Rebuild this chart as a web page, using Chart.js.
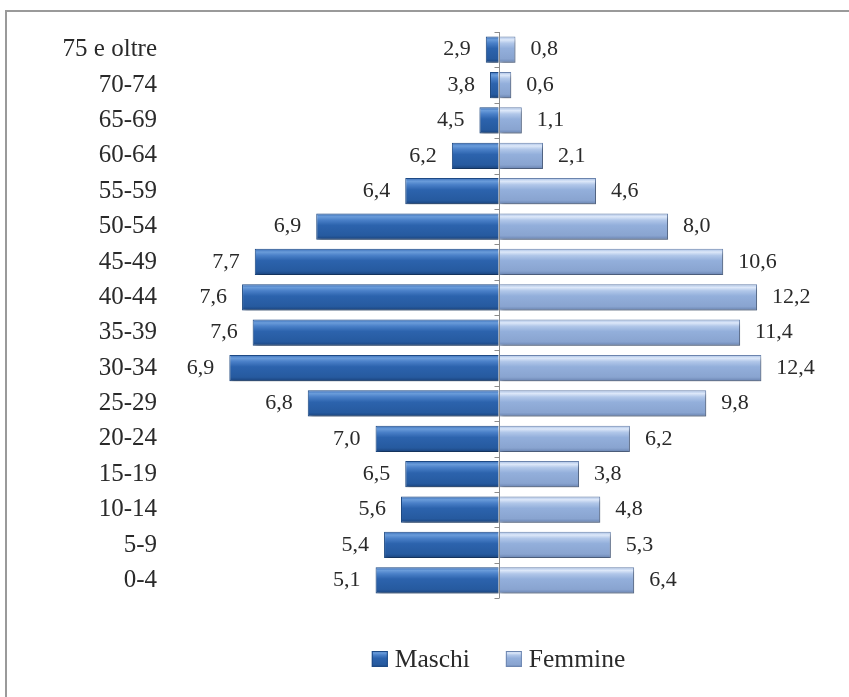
<!DOCTYPE html>
<html>
<head>
<meta charset="utf-8">
<script src="https://cdn.jsdelivr.net/npm/chart.js@4.4.1/dist/chart.umd.min.js"></script>
<style>
  html, body { margin: 0; padding: 0; background: #fff; }
  #wrap { position: relative; width: 849px; height: 697px; overflow: hidden; }
  #frame { position: absolute; left: 5px; top: 10px; width: 900px; height: 760px;
           border-left: 2px solid #9a9a9a; border-top: 2px solid #9a9a9a; box-sizing: border-box; }
  canvas { position: absolute; left: 0; top: 0; }
</style>
</head>
<body>
<div id="wrap">
  <div id="frame"></div>
  <canvas id="c" width="849" height="697"></canvas>
</div>
<script>
// Categories, top to bottom
const categories = ["75 e oltre","70-74","65-69","60-64","55-59","50-54","45-49","40-44","35-39","30-34","25-29","20-24","15-19","10-14","5-9","0-4"];
// Bar lengths
const maschi  = [0.6, 0.4, 0.9, 2.2, 4.4, 8.6, 11.5, 12.1, 11.6, 12.7, 9.0, 5.8, 4.4, 4.6, 5.4, 5.8];
const femmine = [0.8, 0.6, 1.1, 2.1, 4.6, 8.0, 10.6, 12.2, 11.4, 12.4, 9.8, 6.2, 3.8, 4.8, 5.3, 6.4];
// Data labels as printed on the chart
const maschiLabels  = ["2,9","3,8","4,5","6,2","6,4","6,9","7,7","7,6","7,6","6,9","6,8","7,0","6,5","5,6","5,4","5,1"];
const femmineLabels = ["0,8","0,6","1,1","2,1","4,6","8,0","10,6","12,2","11,4","12,4","9,8","6,2","3,8","4,8","5,3","6,4"];
const seriesNames = ["Maschi","Femmine"];

const FONT = "'Liberation Serif', 'DejaVu Serif', serif";
const TEXT = '#2a2a2a';

function barGradient(stops, plain) {
  return function(ctx) {
    const chart = ctx.chart;
    if (ctx.type !== 'data' || !chart.scales || !chart.scales.y || !chart.chartArea) return plain;
    const y = chart.scales.y.getPixelForValue(ctx.dataIndex);
    const h = 26;
    const g = chart.ctx.createLinearGradient(0, y - h/2, 0, y + h/2);
    stops.forEach(s => g.addColorStop(s[0], s[1]));
    return g;
  };
}

const maleStops = [[0,'#3b70ba'],[0.12,'#6a9cda'],[0.25,'#4a80c8'],[0.45,'#2c63ad'],[0.85,'#265a9f'],[1,'#1a437c']];
const femStops  = [[0,'#a6bee4'],[0.12,'#dde8f9'],[0.25,'#b1c7e9'],[0.45,'#93afdb'],[0.85,'#89a4d0'],[1,'#6983b0']];
const maleSolid = '#2c63ad', femSolid = '#93afdb';

const shadowPlugin = {
  id: 'shadow',
  beforeDatasetsDraw(chart) {
    const c = chart.ctx; c.save();
    c.shadowColor = 'rgba(0,0,0,0.35)'; c.shadowBlur = 4; c.shadowOffsetX = 2; c.shadowOffsetY = 3;
  },
  afterDatasetsDraw(chart) { chart.ctx.restore(); }
};

const axisPlugin = {
  id: 'centerAxis',
  afterDatasetsDraw(chart) {
    const c = chart.ctx, a = chart.chartArea, xs = chart.scales.x;
    const x0 = Math.round(xs.getPixelForValue(0)) + 0.5;
    c.save();
    c.strokeStyle = '#8c8c8c'; c.lineWidth = 1;
    c.beginPath(); c.moveTo(x0, a.top); c.lineTo(x0, a.bottom); c.stroke();
    const n = categories.length, step = (a.bottom - a.top) / n;
    c.beginPath();
    for (let i = 0; i <= n; i++) {
      const yy = Math.round(a.top + i * step) + 0.5;
      c.moveTo(x0 - 5, yy); c.lineTo(x0, yy);
    }
    c.stroke();
    c.restore();
  }
};

const labelPlugin = {
  id: 'valueLabels',
  afterDraw(chart) {
    const c = chart.ctx;
    c.save();
    c.font = "22px " + FONT;
    c.fillStyle = TEXT;
    c.textBaseline = 'middle';
    const m0 = chart.getDatasetMeta(0), m1 = chart.getDatasetMeta(1);
    m0.data.forEach((el, i) => {
      c.textAlign = 'right';
      c.fillText(maschiLabels[i], el.x - 15, el.y);
    });
    m1.data.forEach((el, i) => {
      c.textAlign = 'left';
      c.fillText(femmineLabels[i], el.x + 15, el.y);
    });
    c.restore();
  }
};

const legendPlugin = {
  id: 'customLegend',
  afterDraw(chart) {
    const c = chart.ctx, a = chart.chartArea;
    const cx = (a.left + a.right) / 2, cy = 659;
    const box = 16, gap = 7, itemGap = 36;
    c.save();
    c.font = "25.5px " + FONT;
    const ds = chart.data.datasets;
    const solids = [maleSolid, femSolid], strokes = ['#1d4a86', '#6d86b0'];
    const widths = ds.map(d => c.measureText(d.label).width);
    let total = 0;
    widths.forEach((w, i) => { total += box + gap + w + (i < widths.length - 1 ? itemGap : 0); });
    let x = cx - total / 2;
    ds.forEach((d, i) => {
      const g = c.createLinearGradient(0, cy - box/2, 0, cy + box/2);
      (i === 0 ? maleStops : femStops).forEach(s => g.addColorStop(s[0], s[1]));
      c.fillStyle = g;
      c.fillRect(x, cy - box/2, box, box);
      c.strokeStyle = strokes[i]; c.lineWidth = 1;
      c.strokeRect(x + 0.5, cy - box/2 + 0.5, box - 1, box - 1);
      c.fillStyle = TEXT; c.textAlign = 'left'; c.textBaseline = 'middle';
      c.fillText(d.label, x + box + gap, cy + 1);
      x += box + gap + widths[i] + itemGap;
    });
    c.restore();
  }
};

new Chart(document.getElementById('c'), {
  type: 'bar',
  data: {
    labels: categories,
    datasets: [
      { label: seriesNames[0], data: maschi.map(v => -v),
        backgroundColor: barGradient(maleStops, maleSolid), borderColor: '#1d4a86', borderWidth: 1,
        categoryPercentage: 1, barPercentage: 0.74 },
      { label: seriesNames[1], data: femmine,
        backgroundColor: barGradient(femStops, femSolid), borderColor: '#6d86b0', borderWidth: 1,
        categoryPercentage: 1, barPercentage: 0.74 }
    ]
  },
  options: {
    indexAxis: 'y',
    responsive: false,
    animation: false,
    devicePixelRatio: 1,
    layout: { padding: { top: 32, right: 22, bottom: 99, left: 0 } },
    scales: {
      x: { stacked: true, min: -15.5, max: 15.5, display: false },
      y: { stacked: true,
           grid: { display: false }, border: { display: false },
           ticks: { color: TEXT, font: { family: FONT, size: 25 }, padding: 5, autoSkip: false },
           afterFit(s) { s.width = 170; } }
    },
    plugins: {
      legend: { display: false },
      tooltip: { enabled: false }
    }
  },
  plugins: [shadowPlugin, axisPlugin, labelPlugin, legendPlugin]
});
</script>
</body>
</html>
